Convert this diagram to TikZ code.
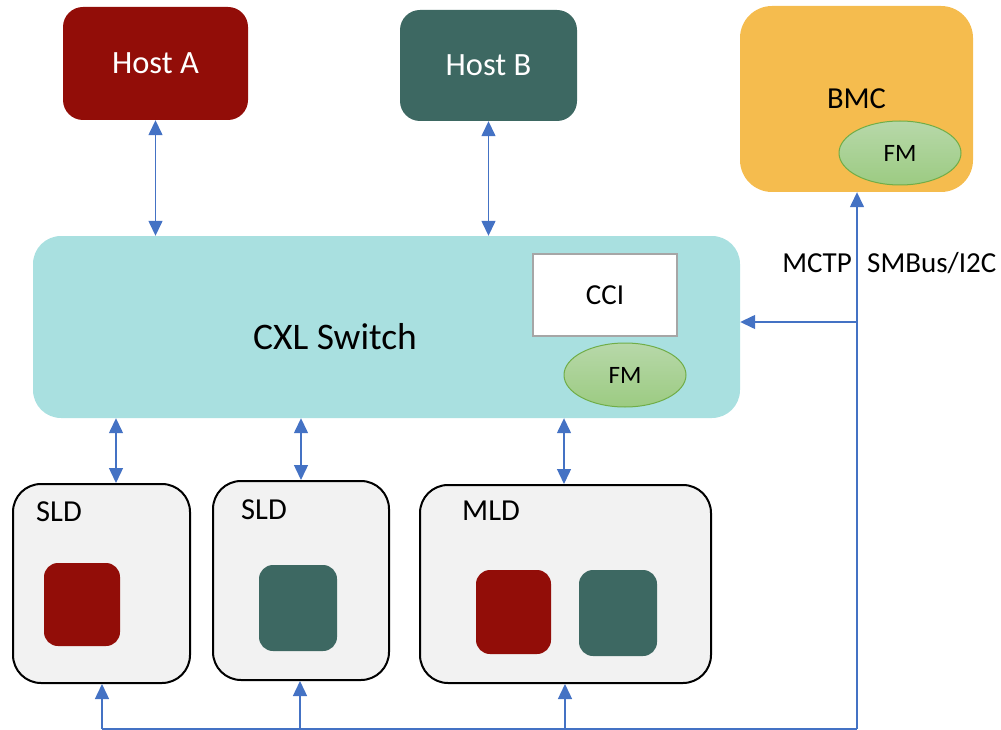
\documentclass[tikz,border=0pt]{standalone}
\usepackage{fontspec}
\setmainfont{Carlito}
\usetikzlibrary{arrows.meta,shapes.geometric}

\definecolor{hostred}{HTML}{920D08}
\definecolor{hostteal}{HTML}{3D6862}
\definecolor{bmcorange}{HTML}{F5BC4E}
\definecolor{switchcyan}{HTML}{A9E0E0}
\definecolor{devgray}{HTML}{F2F2F2}
\definecolor{linkblue}{HTML}{4472C4}
\definecolor{fmtop}{HTML}{B7D8A9}
\definecolor{fmbot}{HTML}{9CCB82}
\definecolor{fmedge}{HTML}{70AD47}
\definecolor{ccigray}{HTML}{A6A6A6}

\tikzset{
  txt/.style={font=\fontsize{29}{34}\selectfont},
  devtxt/.style={font=\fontsize{30.5}{36}\selectfont},
  hostbox/.style={rectangle, rounded corners=20pt, draw=none, text=white,
    font=\fontsize{32.5}{38}\selectfont, inner sep=0pt},
  devbox/.style={rectangle, rounded corners=28pt, draw=black, line width=2pt,
    fill=devgray, inner sep=0pt},
  portbox/.style={rectangle, rounded corners=14pt, draw=none, inner sep=0pt},
  fmnode/.style={ellipse, draw=fmedge, line width=1pt, top color=fmtop,
    bottom color=fmbot, minimum width=122pt, minimum height=64pt, inner sep=0pt,
    font=\fontsize{25}{30}\selectfont},
  link/.style={draw=linkblue, line width=1.4pt},
  biarrow/.style={link, {Triangle[length=15pt,width=14pt]}-{Triangle[length=15pt,width=14pt]}},
  uparrow/.style={link, -{Triangle[length=15pt,width=14pt]}},
}

\begin{document}
\begin{tikzpicture}[x=1pt,y=-1pt]
\useasboundingbox (0,0) rectangle (1001,730);

% hosts and BMC
\node[hostbox, fill=hostred, minimum width=185pt, minimum height=113pt] (hostA) at (155.5,63.5) {Host A};
\node[hostbox, fill=hostteal, minimum width=177pt, minimum height=111pt] (hostB) at (488.5,65.5) {Host B};
\node[rectangle, rounded corners=32pt, fill=bmcorange, minimum width=233pt, minimum height=186pt,
  inner sep=0pt, font=\fontsize{30.5}{36}\selectfont] (bmc) at (856.5,99) {BMC};
\node[fmnode] (bmcfm) at (900,153) {FM};

% the switch
\node[rectangle, rounded corners=28pt, fill=switchcyan, minimum width=707pt, minimum height=182pt,
  inner sep=0pt] (switch) at (386.5,327) {};
\node[font=\fontsize{37.5}{44}\selectfont] (swlabel) at (335,337) {CXL Switch};
\node[rectangle, draw=ccigray, fill=white, line width=2.5pt, minimum width=144pt, minimum height=82pt,
  inner sep=0pt, txt] (cci) at (605,295) {CCI};
\node[fmnode] (swfm) at (625,375) {FM};

% devices
\node[devbox, minimum width=177pt, minimum height=199pt] (sld1) at (101.5,583.5) {};
\node[devbox, minimum width=176pt, minimum height=199pt] (sld2) at (301,580.5) {};
\node[devbox, minimum width=291pt, minimum height=198pt] (mld) at (565.5,584) {};
\node[devtxt, anchor=west, inner sep=0pt] (sld1lbl) at (36,512) {SLD};
\node[devtxt, anchor=west, inner sep=0pt] (sld2lbl) at (241,510) {SLD};
\node[devtxt, anchor=west, inner sep=0pt] (mldlbl) at (462,511) {MLD};

\node[portbox, fill=hostred, minimum width=76pt, minimum height=83pt] (p1) at (82,604.5) {};
\node[portbox, fill=hostteal, minimum width=78pt, minimum height=86pt] (p2) at (298,608) {};
\node[portbox, fill=hostred, minimum width=75pt, minimum height=84pt] (p3) at (513.5,612) {};
\node[portbox, fill=hostteal, minimum width=78pt, minimum height=86pt] (p4) at (618,613) {};

% host links
\draw[biarrow] (hostA.south) -- (hostA.south |- switch.north);
\draw[biarrow] (hostB.south) -- (hostB.south |- switch.north);

% device links
\draw[biarrow] (116,0 |- switch.south) -- (116,0 |- sld1.north);
\draw[biarrow] (301,0 |- switch.south) -- (301,0 |- sld2.north);
\draw[biarrow] (564,0 |- switch.south) -- (564,0 |- mld.north);

% sideband bus
\coordinate (b1) at (102,729);
\coordinate (b2) at (300,729);
\coordinate (b3) at (565,729);
\coordinate (bend) at (857,729);
\coordinate (tap) at (857,322);
\draw[link] (b1) -- (bend);
\draw[uparrow] (b1) -- (b1 |- sld1.south);
\draw[uparrow] (b2) -- (b2 |- sld2.south);
\draw[uparrow] (b3) -- (b3 |- mld.south);
\draw[uparrow] (bend) -- (bend |- bmc.south);
\draw[uparrow] (tap) -- (tap -| switch.east);

\node[txt, anchor=east, inner sep=0pt] (mctp) at (852,263) {MCTP};
\node[txt, anchor=west, inner sep=0pt] (smbus) at (867,263) {SMBus/I2C};
\end{tikzpicture}
\end{document}
